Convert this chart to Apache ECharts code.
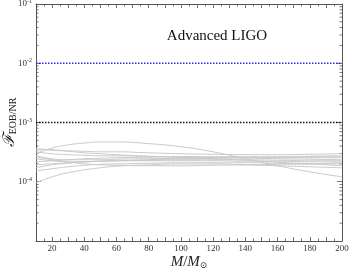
<!DOCTYPE html>
<html><head><meta charset="utf-8">
<script src="https://cdn.jsdelivr.net/npm/echarts@6/dist/echarts.min.js"></script>
<style>html,body{margin:0;padding:0;background:#fff}#c{width:349px;height:271px}</style>
</head><body><div id="c"></div>
<script>
// Total mass M/Msun sample points
var masses = [10, 20, 30, 40, 50, 60, 80, 100, 120, 140, 160, 180, 200];
// Unfaithfulness curves (gray), one per NR waveform
var curveA  = [2.97e-4, 3.7e-4, 4.2e-4, 4.5e-4, 4.7e-4, 4.7e-4, 4.4e-4, 3.9e-4, 3.2e-4, 2.44e-4, 1.86e-4, 1.47e-4, 1.21e-4];
var curveB  = [0.96e-4, 1.21e-4, 1.42e-4, 1.59e-4, 1.72e-4, 1.83e-4, 1.93e-4, 2.0e-4, 2.0e-4, 1.93e-4, 1.86e-4, 1.79e-4, 1.72e-4];
var curveC1 = [3.6e-4, 3.47e-4, 3.33e-4, 3.27e-4, 3.2e-4, 3.2e-4, 3.08e-4, 2.97e-4, 2.91e-4, 2.86e-4, 2.86e-4, 2.91e-4, 2.97e-4];
var curveC2 = [3.2e-4, 2.97e-4, 2.86e-4, 2.8e-4, 2.74e-4, 2.74e-4, 2.69e-4, 2.64e-4, 2.64e-4, 2.64e-4, 2.64e-4, 2.69e-4, 2.74e-4];
var curveC3 = [2.74e-4, 2.44e-4, 2.35e-4, 2.35e-4, 2.35e-4, 2.4e-4, 2.44e-4, 2.49e-4, 2.54e-4, 2.54e-4, 2.54e-4, 2.54e-4, 2.54e-4];
var curveC4 = [2.44e-4, 2.26e-4, 2.17e-4, 2.17e-4, 2.22e-4, 2.26e-4, 2.35e-4, 2.44e-4, 2.49e-4, 2.54e-4, 2.59e-4, 2.64e-4, 2.64e-4];
var curveC5 = [2.17e-4, 2.26e-4, 2.35e-4, 2.44e-4, 2.49e-4, 2.54e-4, 2.59e-4, 2.64e-4, 2.59e-4, 2.54e-4, 2.44e-4, 2.4e-4, 2.35e-4];
var curveC6 = [1.93e-4, 2.01e-4, 2.09e-4, 2.17e-4, 2.22e-4, 2.26e-4, 2.31e-4, 2.35e-4, 2.35e-4, 2.35e-4, 2.31e-4, 2.26e-4, 2.26e-4];
var curveC7 = [1.72e-4, 1.93e-4, 2.05e-4, 2.17e-4, 2.22e-4, 2.26e-4, 2.26e-4, 2.26e-4, 2.26e-4, 2.22e-4, 2.22e-4, 2.17e-4, 2.17e-4];
var curveC8 = [1.53e-4, 1.66e-4, 1.79e-4, 1.9e-4, 1.97e-4, 2.0e-4, 2.05e-4, 2.09e-4, 2.09e-4, 2.09e-4, 2.05e-4, 2.0e-4, 2.0e-4];
var curveC9 = [2.64e-4, 2.35e-4, 2.17e-4, 2.0e-4, 1.93e-4, 1.9e-4, 1.86e-4, 1.86e-4, 1.9e-4, 1.93e-4, 1.97e-4, 2.0e-4, 2.09e-4];
var curveC10= [3.47e-4, 3.4e-4, 3.27e-4, 3.08e-4, 2.97e-4, 2.86e-4, 2.69e-4, 2.59e-4, 2.44e-4, 2.31e-4, 2.13e-4, 2.01e-4, 1.86e-4];
var grayCurves = [curveA, curveB, curveC1, curveC2, curveC3, curveC4, curveC5, curveC6, curveC7, curveC8, curveC9, curveC10];
// Threshold levels
var blueLevel = 1e-2;
var blackLevel = 1e-3;
var xRange = [10, 200];
var yRange = [1e-5, 1e-1];
// Y tick labels (exponents)
var yTickExps = [-4, -3, -2, -1];
// Minor log tick values
var minorTickVals = [];
[-5, -4, -3, -2].forEach(function (e) { for (var k = 2; k <= 9; k++) minorTickVals.push(k * Math.pow(10, e)); });

var serif = '"Liberation Serif","DejaVu Serif",serif';
var chart = echarts.init(document.getElementById('c'));
var series = [];
grayCurves.forEach(function (c) {
  series.push({
    type: 'line', smooth: true, symbol: 'none', silent: true,
    lineStyle: { color: '#c9c9c9', width: 1 },
    data: masses.map(function (m, i) { return [m, c[i]]; })
  });
});
series.push({ type: 'line', symbol: 'none', silent: true, lineStyle: { color: '#2b2bf0', width: 1.6, type: [1.5, 1.5] },
  data: [[xRange[0], blueLevel], [xRange[1], blueLevel]] });
series.push({ type: 'line', symbol: 'none', silent: true, lineStyle: { color: '#111', width: 1.6, type: [1.5, 1.5] },
  data: [[xRange[0], blackLevel], [xRange[1], blackLevel]] });
// minor log ticks on left and right
series.push({
  type: 'custom', silent: true,
  data: minorTickVals.map(function (v) { return [xRange[0], v]; }),
  renderItem: function (params, api) {
    var pl = api.coord([xRange[0], api.value(1)]);
    var pr = api.coord([xRange[1], api.value(1)]);
    return { type: 'group', children: [
      { type: 'line', shape: { x1: pl[0], y1: pl[1], x2: pl[0] + 2.5, y2: pl[1] }, style: { stroke: '#555', lineWidth: 0.8 } },
      { type: 'line', shape: { x1: pr[0], y1: pr[1], x2: pr[0] - 2.5, y2: pr[1] }, style: { stroke: '#555', lineWidth: 0.8 } }
    ]};
  }
});

var xTickCommon = { show: true, inside: true, length: 4, lineStyle: { color: '#555', width: 0.8 } };
chart.setOption({
  animation: false,
  grid: { left: 36, right: 7, top: 4, bottom: 30, outerBoundsMode: 'none', containLabel: false },
  graphic: [{ type: 'text', x: 217, y: 29, style: { text: 'Advanced LIGO', font: '15px ' + serif, fill: '#111', textAlign: 'center' } }],
  xAxis: [{
    type: 'value', min: xRange[0], max: xRange[1], interval: 10,
    axisLine: { lineStyle: { color: '#555', width: 1 } },
    axisTick: xTickCommon,
    minorTick: { show: true, splitNumber: 2, length: 2.5, lineStyle: { color: '#555', width: 0.8 } },
    splitLine: { show: false },
    axisLabel: { color: '#333', fontFamily: serif, fontSize: 9, margin: 3,
      formatter: function (v) { return v % 20 === 0 ? String(v) : ''; } },
    name: '{i|M}{n|/}{i|M}{s|⊙}', nameLocation: 'middle', nameGap: 14, nameMoveOverlap: false,
    nameTextStyle: { rich: {
      i: { fontFamily: serif, fontStyle: 'italic', fontSize: 15, color: '#222' },
      n: { fontFamily: serif, fontSize: 15, color: '#222' },
      s: { fontFamily: serif, fontSize: 9, color: '#222', verticalAlign: 'bottom', padding: [6, 0, 0, 0] } } }
  }, {
    type: 'value', position: 'top', min: xRange[0], max: xRange[1], interval: 10,
    axisLine: { show: true, lineStyle: { color: '#555', width: 1 } },
    axisTick: xTickCommon,
    minorTick: { show: true, splitNumber: 2, length: 2.5, lineStyle: { color: '#555', width: 0.8 } },
    splitLine: { show: false }, axisLabel: { show: false }
  }],
  yAxis: [{
    type: 'log', logBase: 10, min: yRange[0], max: yRange[1],
    axisLine: { show: true, lineStyle: { color: '#555', width: 1 } },
    axisTick: { show: true, inside: true, length: 5, lineStyle: { color: '#555', width: 0.8 } },
    splitLine: { show: false },
    axisLabel: { margin: 4, formatter: function (v) {
        var e = Math.round(Math.log10(v));
        if (yTickExps.indexOf(e) < 0) return '';
        return '{b|10}{s|' + e + '}';
      },
      rich: { b: { fontFamily: serif, fontSize: 9, color: '#333' },
              s: { fontFamily: serif, fontSize: 6, color: '#333', verticalAlign: 'top', padding: [0, 0, 5, 0] } } },
    name: '{f|ℱ}{s|EOB/NR}', nameLocation: 'middle', nameGap: 18, nameRotate: 90, nameMoveOverlap: false,
    nameTextStyle: { rich: {
      f: { fontFamily: serif, fontStyle: 'italic', fontSize: 16, color: '#222' },
      s: { fontFamily: serif, fontSize: 10, color: '#222', verticalAlign: 'top', padding: [6, 0, 0, 0] } } }
  }, {
    type: 'log', logBase: 10, min: yRange[0], max: yRange[1], position: 'right',
    axisLine: { show: true, lineStyle: { color: '#555', width: 1 } },
    axisTick: { show: true, inside: true, length: 5, lineStyle: { color: '#555', width: 0.8 } },
    splitLine: { show: false }, axisLabel: { show: false }
  }],
  series: series
});
</script></body></html>
